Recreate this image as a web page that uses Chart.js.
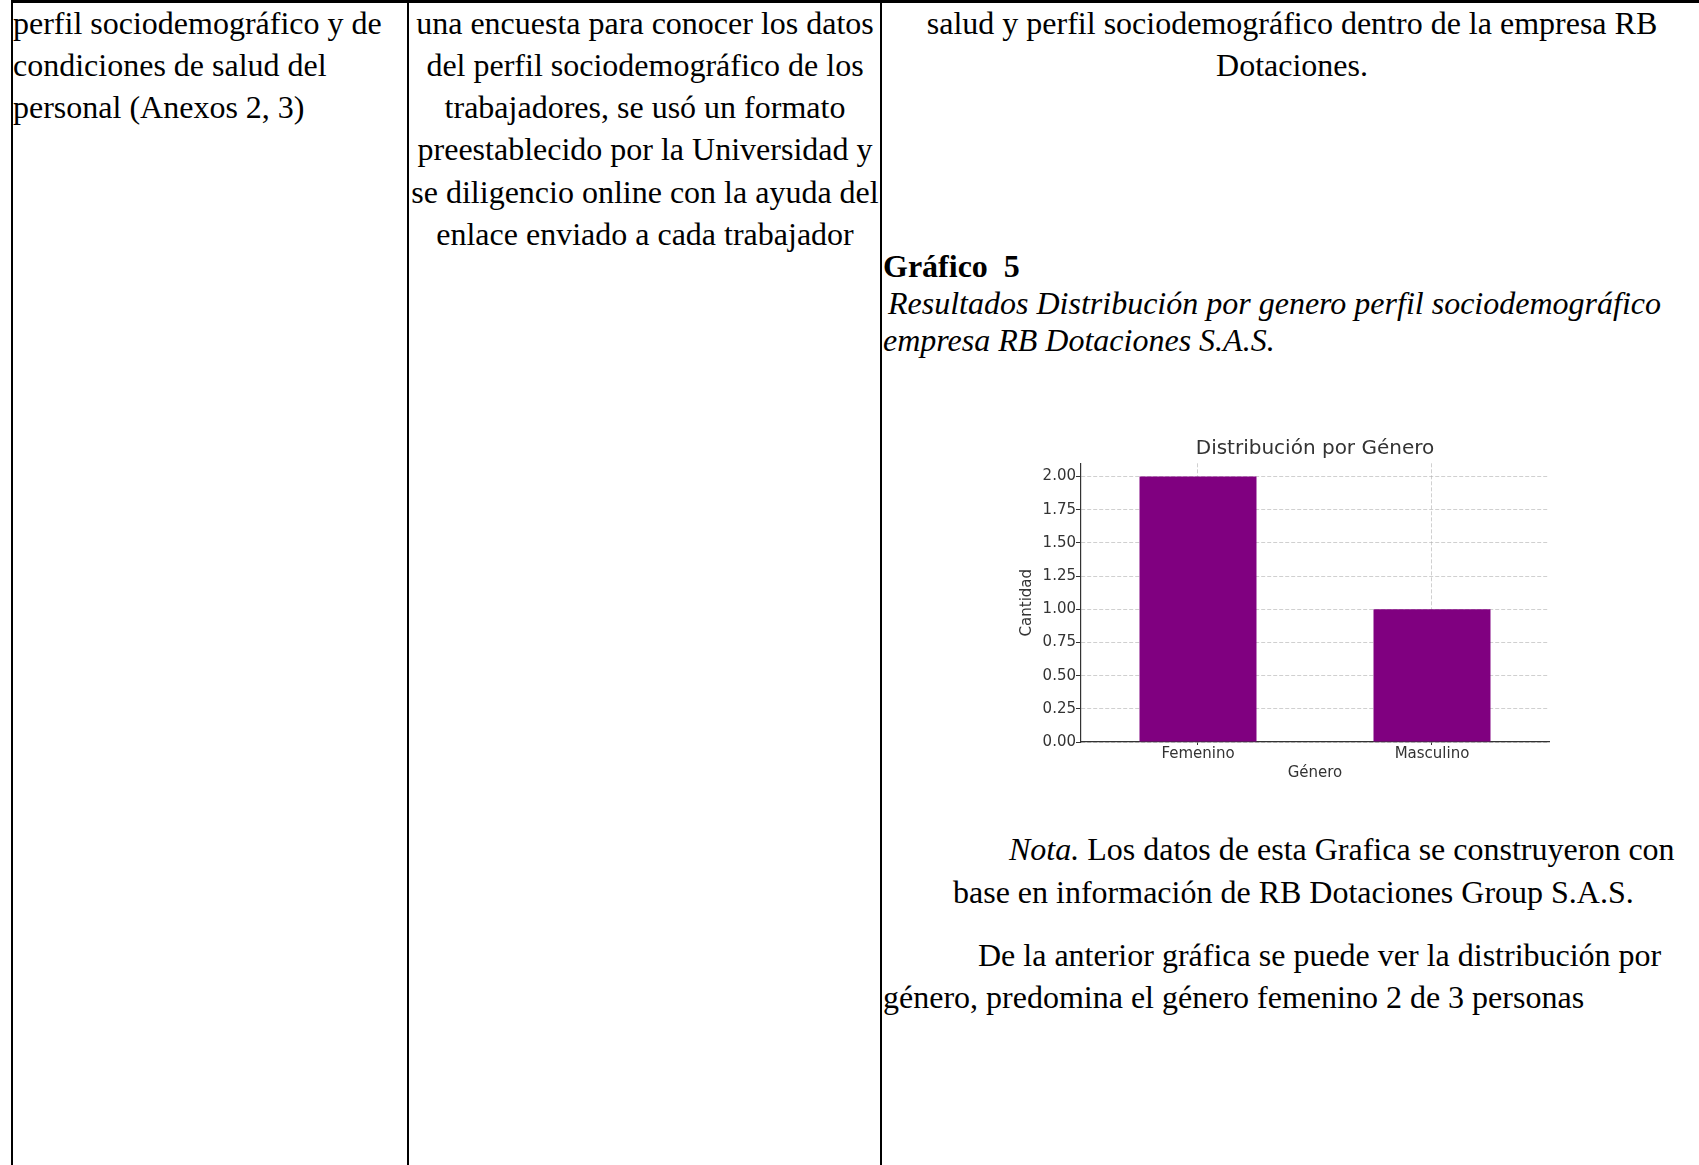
<!DOCTYPE html>
<html lang="es">
<head>
<meta charset="utf-8">
<title>Distribución por Género</title>
<script src="https://cdn.jsdelivr.net/npm/chart.js@4.4.1/dist/chart.umd.min.js"></script>
<style>
  html, body { margin: 0; padding: 0; background: #fff; }
  body {
    width: 1699px; height: 1165px; position: relative; overflow: hidden;
    font-family: "Liberation Serif", "Times New Roman", serif; font-size: 32px; color: #000;
  }
  .rule { position: absolute; background: #000; }
  .ln { position: absolute; white-space: nowrap; line-height: 42px; }
  .c2 { left: 409px; width: 472px; text-align: center; }
  .c3 { left: 882px; width: 820px; text-align: center; }
  #chartBox { position: absolute; left: 1000px; top: 427px; width: 580px; height: 370px; }
</style>
</head>
<body>
  <!-- table rules -->
  <div class="rule" style="left:11px; top:0; width:1688px; height:3px;"></div>
  <div class="rule" style="left:11px; top:0; width:2px; height:1165px;"></div>
  <div class="rule" style="left:407px; top:0; width:2px; height:1165px;"></div>
  <div class="rule" style="left:880px; top:0; width:2px; height:1165px;"></div>

  <!-- column 1 -->
  <div class="ln" style="left:13px; top:2px;">perfil sociodemográfico y de</div>
  <div class="ln" style="left:13px; top:44px;">condiciones de salud del</div>
  <div class="ln" style="left:13px; top:86px;">personal (Anexos 2, 3)</div>

  <!-- column 2 -->
  <div class="ln c2" style="top:2px;">una encuesta para conocer los datos</div>
  <div class="ln c2" style="top:44px;">del perfil sociodemográfico de los</div>
  <div class="ln c2" style="top:86px;">trabajadores, se usó un formato</div>
  <div class="ln c2" style="top:128px;">preestablecido por la Universidad y</div>
  <div class="ln c2" style="top:171px;">se diligencio online con la ayuda del</div>
  <div class="ln c2" style="top:213px;">enlace enviado a cada trabajador</div>

  <!-- column 3 -->
  <div class="ln c3" style="top:2px;">salud y perfil sociodemográfico dentro de la empresa RB</div>
  <div class="ln c3" style="top:44px;">Dotaciones.</div>
  <div class="ln" style="left:883px; top:245px; font-weight:bold;">Gráfico&nbsp; 5</div>
  <div class="ln" style="left:888px; top:282px; font-style:italic;">Resultados Distribución por genero perfil sociodemográfico</div>
  <div class="ln" style="left:883px; top:319px; font-style:italic;">empresa RB Dotaciones S.A.S.</div>

  <div id="chartBox"><canvas id="genderChart"></canvas></div>

  <div class="ln" style="left:1009px; top:828px;"><i>Nota.</i> Los datos de esta Grafica se construyeron con</div>
  <div class="ln" style="left:953px; top:871px;">base en información de RB Dotaciones Group S.A.S.</div>
  <div class="ln" style="left:978px; top:934px;">De la anterior gráfica se puede ver la distribución por</div>
  <div class="ln" style="left:883px; top:976px;">género, predomina el género femenino 2 de 3 personas</div>

<script>
const GENDERS = ['Femenino', 'Masculino'];
const COUNTS = [2, 1];
const Y_MAX = 2.1;
const Y_STEP = 0.25;

const BAR_COLOR = '#800080';
const INK = '#333333';
const GRID = 'rgba(176, 176, 176, 0.6)';
const TICK_FONT = { family: 'DejaVu Sans', size: 15 };

new Chart(document.getElementById('genderChart'), {
  type: 'bar',
  data: {
    labels: GENDERS,
    datasets: [{
      label: 'Cantidad',
      data: COUNTS,
      backgroundColor: BAR_COLOR,
      borderWidth: 0,
      barPercentage: 0.5,
      categoryPercentage: 1,
    }],
  },
  options: {
    responsive: true,
    maintainAspectRatio: false,
    animation: false,
    layout: { padding: { left: 18, right: 31, top: 9.4, bottom: 15 } },
    plugins: {
      legend: { display: false },
      tooltip: { enabled: false },
      title: {
        display: true,
        text: 'Distribución por Género',
        fullSize: false,
        color: INK,
        font: { family: 'DejaVu Sans', size: 20, weight: 'normal' },
        padding: { top: 0, bottom: 2.9 },
      },
    },
    scales: {
      x: {
        z: 1,
        offset: true,
        grid: { offset: false, color: GRID, lineWidth: 1, tickColor: INK, tickLength: 3 },
        border: { color: INK, width: 1.2, dash: [4, 2] },
        ticks: { padding: 0, color: INK, font: TICK_FONT },
        title: { display: true, text: 'Género', color: INK, font: TICK_FONT, padding: { top: 1, bottom: 0 } },
      },
      y: {
        z: 1,
        min: 0,
        max: Y_MAX,
        grid: { color: GRID, lineWidth: 1, tickColor: INK, tickLength: 5 },
        border: { color: INK, width: 1.2, dash: [4, 2] },
        ticks: {
          stepSize: Y_STEP,
          includeBounds: false,
          padding: 0,
          color: INK,
          font: TICK_FONT,
          callback: (value) => Number(value).toFixed(2),
        },
        title: { display: true, text: 'Cantidad', color: INK, font: TICK_FONT, padding: { top: 0, bottom: 6.6 } },
      },
    },
  },
});
</script>
</body>
</html>
